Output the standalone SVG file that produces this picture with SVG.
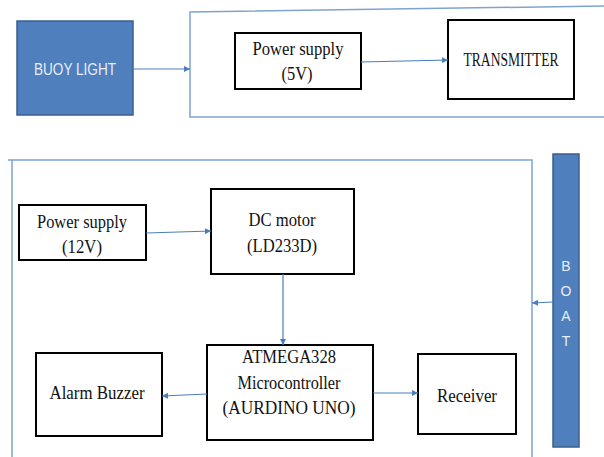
<svg xmlns="http://www.w3.org/2000/svg" width="604" height="457" viewBox="0 0 604 457">
<style>
.box{fill:#fff;stroke:#000;stroke-width:2}
.blue{fill:#4f7fbd;stroke:#3a5f8e;stroke-width:1.5}
.frame{fill:none;stroke:#7fa3d1;stroke-width:1.5}
.conn{fill:none;stroke:#4a7ebb;stroke-width:1.2}
.t{font-family:'Liberation Serif','Times New Roman',serif;font-size:19px;fill:#111;text-anchor:middle}
.w{font-family:'Liberation Sans',Arial,sans-serif;fill:#e8eef8;text-anchor:middle}
</style>
<defs>
<marker id="ah" markerUnits="userSpaceOnUse" markerWidth="6" markerHeight="6" refX="6" refY="3" orient="auto">
<path d="M0,0 L6,3 L0,6 z" fill="#4a7ebb"/>
</marker>
</defs>
<rect width="604" height="457" fill="#fff"/>
<g id="frames">
<path class="frame" d="M604 6 L190 12 L190 117 L604 117"/>
<path class="frame" d="M8 160 L532 160 L532 457 M12 160 L12 457"/>
</g>
<g id="buoy">
<rect class="blue" x="17" y="21" width="116" height="94"/>
<text class="w" x="75" y="75" font-size="17" textLength="82" lengthAdjust="spacingAndGlyphs">BUOY LIGHT</text>
</g>
<g id="ps5">
<rect class="box" x="235" y="33" width="126" height="56"/>
<text class="t" x="298" y="55" textLength="91" lengthAdjust="spacingAndGlyphs">Power supply</text>
<text class="t" x="297" y="80" textLength="31" lengthAdjust="spacingAndGlyphs">(5V)</text>
</g>
<g id="tx">
<rect class="box" x="448" y="20" width="126" height="79"/>
<text class="t" x="511" y="66" font-size="18" textLength="95" lengthAdjust="spacingAndGlyphs">TRANSMITTER</text>
</g>
<g id="ps12">
<rect class="box" x="19" y="205" width="127" height="55"/>
<text class="t" x="82" y="228" textLength="90" lengthAdjust="spacingAndGlyphs">Power supply</text>
<text class="t" x="82" y="253" textLength="40" lengthAdjust="spacingAndGlyphs">(12V)</text>
</g>
<g id="dc">
<rect class="box" x="211" y="189" width="143" height="85"/>
<text class="t" x="282" y="226" textLength="67" lengthAdjust="spacingAndGlyphs">DC motor</text>
<text class="t" x="282" y="252" textLength="70" lengthAdjust="spacingAndGlyphs">(LD233D)</text>
</g>
<g id="mcu">
<rect class="box" x="207" y="345" width="166" height="95"/>
<text class="t" x="289" y="363" textLength="94" lengthAdjust="spacingAndGlyphs">ATMEGA328</text>
<text class="t" x="289" y="389" textLength="103" lengthAdjust="spacingAndGlyphs">Microcontroller</text>
<text class="t" x="289" y="414" textLength="133" lengthAdjust="spacingAndGlyphs">(AURDINO UNO)</text>
</g>
<g id="alarm">
<rect class="box" x="36" y="353" width="126" height="83"/>
<text class="t" x="97" y="399" textLength="95" lengthAdjust="spacingAndGlyphs">Alarm Buzzer</text>
</g>
<g id="receiver">
<rect class="box" x="418" y="354" width="98" height="80"/>
<text class="t" x="467" y="402" textLength="60" lengthAdjust="spacingAndGlyphs">Receiver</text>
</g>
<g id="boat">
<rect class="blue" x="553" y="154" width="26" height="293"/>
<text class="w" x="566" y="271" font-size="14">B</text>
<text class="w" x="566" y="296" font-size="14">O</text>
<text class="w" x="566" y="321" font-size="14">A</text>
<text class="w" x="566" y="346" font-size="14">T</text>
</g>
<g id="connectors">
<path class="conn" d="M133 69 L190 69" marker-end="url(#ah)"/>
<path class="conn" d="M361 62 L448 60" marker-end="url(#ah)"/>
<path class="conn" d="M146 233 L211 231" marker-end="url(#ah)"/>
<path class="conn" d="M283 274 L283 345" marker-end="url(#ah)"/>
<path class="conn" d="M207 394 L162 396" marker-end="url(#ah)"/>
<path class="conn" d="M373 393 L418 393" marker-end="url(#ah)"/>
<path class="conn" d="M553 302 L532 303" marker-end="url(#ah)"/>
</g>
</svg>
